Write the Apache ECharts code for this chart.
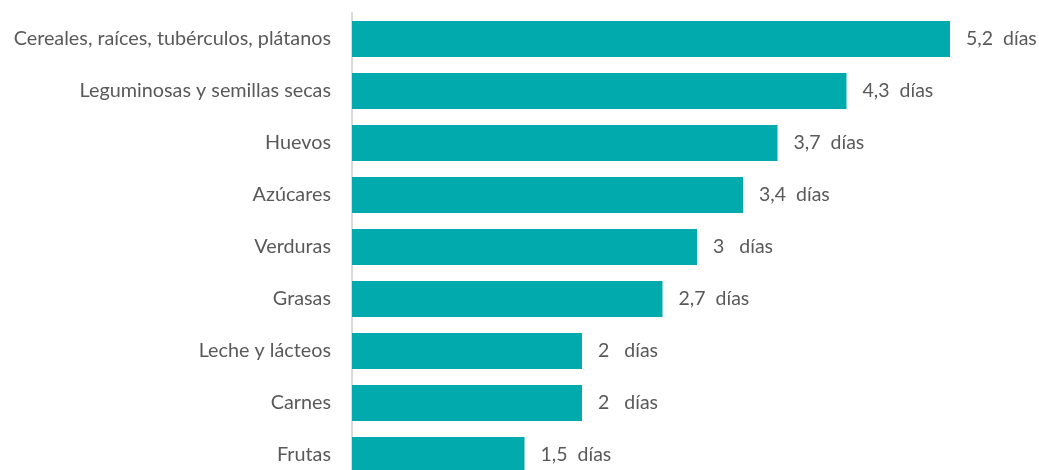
<!DOCTYPE html>
<html><head><meta charset="utf-8">
<script src="https://cdn.jsdelivr.net/npm/echarts@6/dist/echarts.min.js"></script>
<style>html,body{margin:0;padding:0;background:#fff}#c{width:1039px;height:470px}</style>
</head><body><div id="c"></div>
<script>
const categories = ["Cereales, raíces, tubérculos, plátanos","Leguminosas y semillas secas","Huevos","Azúcares","Verduras","Grasas","Leche y lácteos","Carnes","Frutas"];
const values = [5.2, 4.3, 3.7, 3.4, 3, 2.7, 2, 2, 1.5];
const unit = "días";

const chart = echarts.init(document.getElementById('c'));
chart.setOption({
  animation: false,
  grid: { left: 352, top: 13, width: 690, height: 468, outerBoundsMode: 'none', containLabel: false },
  xAxis: { type: 'value', min: 0, max: 6, show: false },
  yAxis: {
    type: 'category', data: categories, inverse: true,
    axisLine: { show: true, lineStyle: { color: '#d9d9d9', width: 2 } },
    axisTick: { show: false },
    axisLabel: { color: '#595959', fontSize: 19.8, fontFamily: 'Lato', margin: 21 }
  },
  series: [{
    type: 'bar', data: values, barWidth: 36,
    itemStyle: { color: '#00aaad' },
    label: {
      show: true, position: 'right', distance: 16,
      color: '#595959', fontSize: 19.5, fontFamily: 'Lato',
      formatter: p => {
        const s = String(p.value).replace('.', ',');
        return s + (Number.isInteger(p.value) ? '   ' : '  ') + unit;
      }
    }
  }]
});
</script></body></html>
